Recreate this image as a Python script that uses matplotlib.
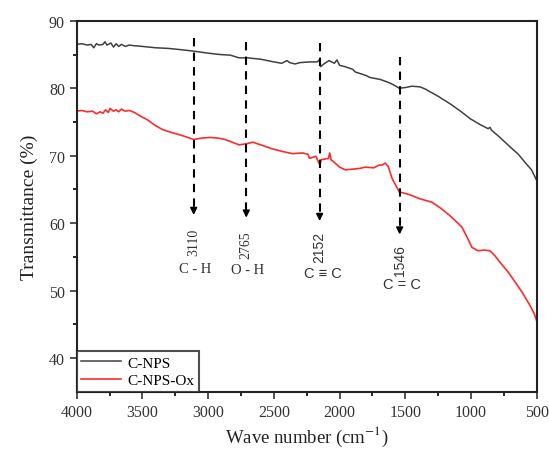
import matplotlib as mpl
mpl.use('Agg')
import matplotlib.pyplot as plt

plt.rcParams['font.family'] = ['Liberation Serif', 'DejaVu Serif']
plt.rcParams['mathtext.fontset'] = 'stix'

# C-NPS (black curve)
wn_cnps = [4000, 3960, 3920, 3890, 3870, 3850, 3830, 3800, 3785, 3770, 3740, 3720, 3700, 3680,
           3660, 3630, 3600, 3560, 3500, 3400, 3300, 3200, 3110, 3000, 2910, 2830, 2765, 2700,
           2600, 2500, 2440, 2400, 2380, 2340, 2300, 2230, 2170, 2155, 2145, 2120, 2080, 2040,
           2020, 2000, 1960, 1900, 1880, 1800, 1770, 1690, 1620, 1580, 1546, 1500, 1450, 1388,
           1350, 1250, 1160, 1080, 1008, 930, 870, 856, 845, 780, 703, 640, 589, 540, 500]
tr_cnps = [86.5, 86.6, 86.4, 86.5, 86.0, 86.6, 86.4, 86.5, 86.9, 86.4, 86.7, 86.1, 86.6, 86.2,
           86.5, 86.2, 86.4, 86.3, 86.2, 86.0, 85.9, 85.7, 85.5, 85.2, 85.0, 84.9, 84.5, 84.5,
           84.3, 83.9, 83.7, 84.1, 83.8, 83.6, 83.8, 83.9, 83.9, 84.2, 83.2, 83.6, 84.1, 83.7,
           84.2, 83.4, 83.2, 82.8, 82.4, 81.9, 81.6, 81.3, 80.8, 80.4, 80.0, 80.1, 80.3, 80.2,
           79.9, 78.8, 77.7, 76.6, 75.5, 74.6, 74.0, 74.2, 73.8, 72.7, 71.3, 70.2, 69.0, 67.9, 66.3]

# C-NPS-Ox (red curve)
wn_ox = [4000, 3960, 3920, 3880, 3850, 3823, 3800, 3780, 3760, 3746, 3720, 3700, 3680, 3660,
         3632, 3600, 3560, 3518, 3460, 3404, 3350, 3290, 3200, 3110, 3050, 2986, 2920, 2872,
         2830, 2765, 2700, 2660, 2600, 2510, 2430, 2357, 2282, 2240, 2229, 2180, 2150, 2140,
         2110, 2085, 2075, 2065, 2040, 2000, 1957, 1900, 1850, 1805, 1740, 1700, 1676, 1653,
         1630, 1600, 1570, 1546, 1520, 1465, 1388, 1297, 1230, 1160, 1100, 1069, 1030, 993,
         947, 900, 856, 820, 780, 720, 666, 610, 552, 520, 500]
tr_ox = [76.6, 76.7, 76.5, 76.6, 76.2, 76.5, 76.3, 76.8, 76.4, 77.0, 76.6, 76.8, 76.5, 76.9,
         76.6, 76.7, 76.4, 75.9, 75.3, 74.5, 73.9, 73.5, 73.0, 72.4, 72.6, 72.7, 72.6, 72.4,
         72.1, 71.6, 71.8, 72.0, 71.6, 71.0, 70.6, 70.3, 70.4, 70.2, 69.6, 69.9, 68.6, 69.4,
         69.5, 69.6, 70.4, 69.4, 69.0, 68.3, 67.9, 68.0, 68.1, 68.3, 68.2, 68.6, 68.6, 68.9,
         68.4, 66.6, 65.5, 64.6, 64.5, 64.2, 63.6, 63.1, 62.2, 61.1, 60.0, 59.4, 57.9, 56.4,
         55.9, 56.0, 55.9, 55.2, 54.2, 52.8, 51.3, 49.7, 47.8, 46.6, 45.5]

# peak markers: label, where the dashed line sits, top of line, arrow tip
peak_labels = ['3110', '2765', '2152', '1546']
peak_x = [3110, 2710, 2152, 1543]
peak_top = [87.4, 86.8, 86.7, 84.6]
peak_tip = [60.8, 60.4, 59.9, 57.9]
peak_num_y = [57.3, 56.8, 56.5, 54.6]
bond_labels = ['C - H', 'O - H', 'C \u2261 C', 'C = C']
bond_x = [3100, 2700, 2125, 1525]
bond_y = [53.2, 53.1, 52.6, 51.0]

fig = plt.figure(figsize=(5.49, 4.52), dpi=100)
ax = fig.add_axes([0.1397, 0.1312, 0.838, 0.8206])

ax.plot(wn_cnps, tr_cnps, color='#404040', lw=1.1, label='C-NPS')
ax.plot(wn_ox, tr_ox, color='#ff2a2a', lw=1.2, label='C-NPS-Ox')

for i in range(len(peak_x)):
    ax.plot([peak_x[i], peak_x[i]], [peak_top[i], peak_tip[i] + 1.2], color='k',
            lw=1.5, ls=(0, (4, 3)))
    ax.annotate('', xy=(peak_x[i], peak_tip[i]), xytext=(peak_x[i], peak_tip[i] + 1.5),
                arrowprops=dict(arrowstyle='-|>', color='k', lw=1.2, mutation_scale=10))
    fnt = 'Liberation Serif' if i < 2 else 'Liberation Sans'
    ax.text(peak_x[i], peak_num_y[i], peak_labels[i], rotation=90, ha='center', va='center',
            fontsize=10, family=fnt, color='#333333')
    ax.text(bond_x[i], bond_y[i], bond_labels[i], ha='center', va='center', fontsize=10.5,
            family=[fnt, 'DejaVu Sans'], color='#333333')

ax.set_xlim(4000, 500)
ax.set_ylim(35, 90)
ax.set_xticks([4000, 3500, 3000, 2500, 2000, 1500, 1000, 500])
ax.set_xticks([3750, 3250, 2750, 2250, 1750, 1250, 750], minor=True)
ax.set_yticks([40, 50, 60, 70, 80, 90])
ax.set_yticks([45, 55, 65, 75, 85], minor=True)
ax.tick_params(which='major', direction='out', length=5, width=1.2, labelsize=11.5,
               colors='#333333')
ax.tick_params(which='minor', direction='out', length=3, width=1.2)
for s in ax.spines.values():
    s.set_linewidth(1.5)
    s.set_color('#222222')

ax.set_xlabel('Wave number (cm$^{-1}$)', fontsize=13.5, color='#222222', labelpad=3)
ax.set_ylabel('Transmittance (%)', fontsize=14, color='#222222', labelpad=8)

leg = ax.legend(loc='lower left', borderaxespad=0, fancybox=False, edgecolor='#222222',
                fontsize=11, handlelength=2.6, handletextpad=0.4, borderpad=0.3,
                labelspacing=0.25)
leg.get_frame().set_linewidth(1.5)

fig.savefig('out.png', dpi=100)
